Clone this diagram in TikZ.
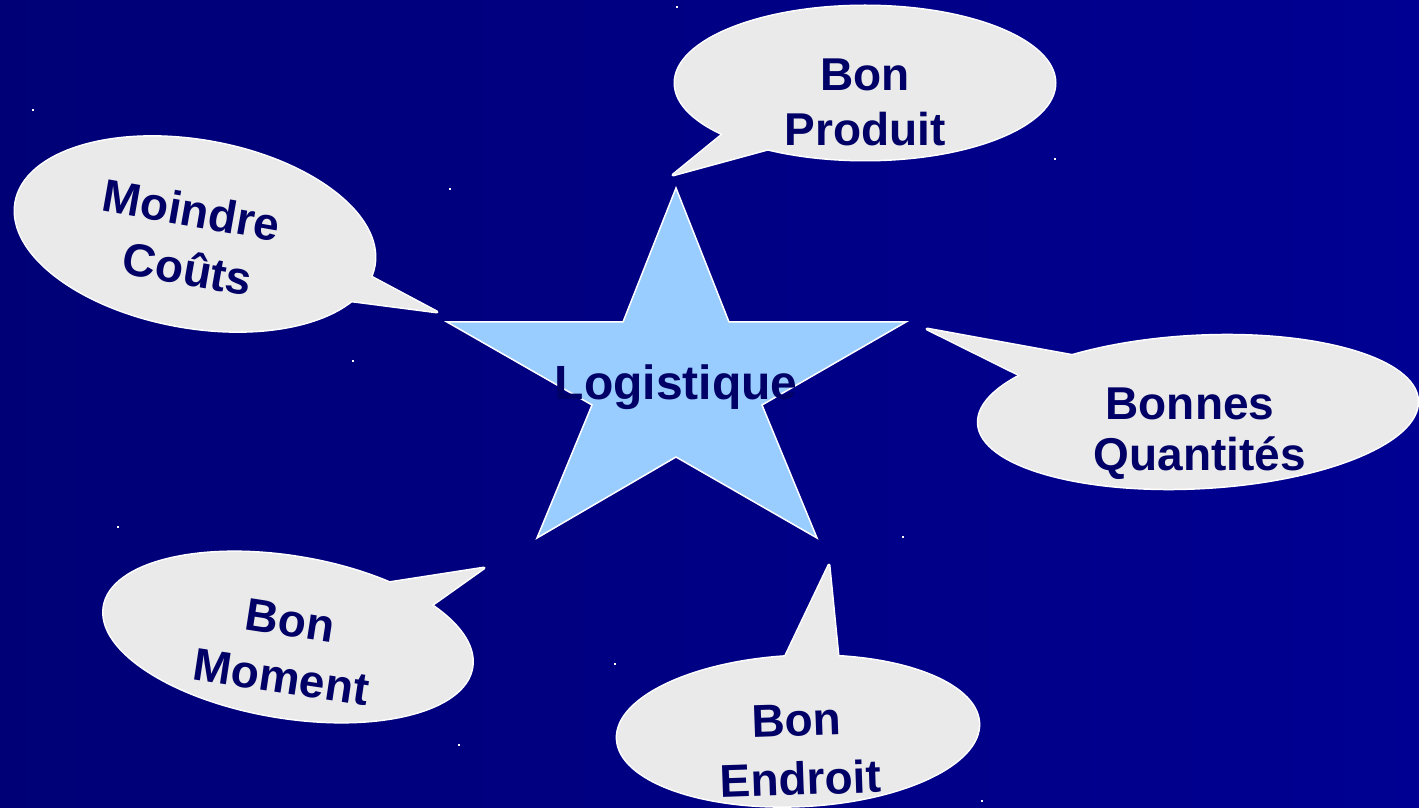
\documentclass[tikz,border=0pt]{standalone}
\usepackage{fontspec}
\setmainfont{Liberation Sans}
\usetikzlibrary{calc}
\definecolor{bgleft}{RGB}{0,0,118}
\definecolor{bgright}{RGB}{0,0,146}
\definecolor{starblue}{RGB}{153,204,255}
\definecolor{cgray}{RGB}{234,234,234}
\definecolor{navytext}{RGB}{0,0,102}
\newcommand\mybubble[7]{%
  \begin{scope}[shift={#1}, rotate=#4]\path[outl] (0,0) ellipse [x radius=#2, y radius=#3];\end{scope}
  \path[outl] ($#5!8pt!#1$) -- #7 -- ($#6!8pt!#1$) -- cycle;
  \begin{scope}[shift={#1}, rotate=#4]\path[cfill] (0,0) ellipse [x radius=#2, y radius=#3];\end{scope}
  \path[cfill] ($#5!8pt!#1$) -- #7 -- ($#6!8pt!#1$) -- cycle;
}
\begin{document}
\begin{tikzpicture}[x=1pt,y=1pt,
  lbl/.style={font=\fontsize{46}{46}\selectfont\bfseries, text=navytext, inner sep=0pt, anchor=base},
  biglbl/.style={font=\fontsize{48}{48}\selectfont\bfseries, text=navytext, inner sep=0pt, anchor=base},
  outl/.style={draw=white, line width=3pt, line join=round},
  cfill/.style={fill=cgray},
  starstyle/.style={draw=white, line width=1.5pt, fill=starblue, line join=miter}
]
\useasboundingbox (0,0) rectangle (1419,807);
\shade[left color=bgleft, right color=bgright] (0,0) rectangle (1419,807);
% small stars
\foreach \x/\y in {677/800, 33/697, 450/618, 1055/648, 353/446, 118/280, 903/270, 615/143, 459/62, 982/6}
  \fill[white] (\x-1.2,\y-1.2) rectangle ++(2.4,2.4);

% star
\coordinate (sT) at (676,619);
\coordinate (sL) at (447,485);
\coordinate (sR) at (906,485);
\coordinate (sBL) at (537,269);
\coordinate (sBR) at (817,269);
\path[starstyle] (sT) -- (729,485) -- (sR) -- (762,402) -- (sBR) -- (676,350) -- (sBL) -- (592,402) -- (sL) -- (623,485) -- cycle;
\node[biglbl] (logi) at (676,407) {Logistique};

% Bon Produit
\coordinate (pc) at (865,724);
\coordinate (pb1) at (720,674);
\coordinate (pb2) at (772,656);
\coordinate (pt) at (673,632);
\mybubble{(pc)}{190}{77}{0}{(pb1)}{(pb2)}{(pt)}
\node[lbl] (p1) at (865,716) {Bon};
\node[lbl] (p2) at (865,661) {Produit};

% Moindre Couts
\coordinate (mc) at (195,573);
\coordinate (mb1) at (372,532);
\coordinate (mb2) at (350,504);
\coordinate (mt) at (437,495);
\mybubble{(mc)}{182}{93.5}{-10}{(mb1)}{(mb2)}{(mt)}
\node[lbl, rotate=-10] (m1) at (189,581) {Moindre};
\node[lbl, rotate=-10] (m2) at (185,522) {Coûts};

% Bonnes Quantites
\coordinate (qc) at (1198,395);
\coordinate (qb1) at (1070,454);
\coordinate (qb2) at (1015,432);
\coordinate (qt) at (927,478);
\mybubble{(qc)}{220}{76}{3}{(qb1)}{(qb2)}{(qt)}
\node[lbl] (q1) at (1190,387) {Bonnes};
\node[lbl] (q2) at (1200,337) {Quantités};

% Bon Endroit
\coordinate (ec) at (798,76);
\coordinate (eb1) at (780,151);
\coordinate (eb2) at (843,150);
\coordinate (et) at (829,242);
\mybubble{(ec)}{181}{75}{2.5}{(eb1)}{(eb2)}{(et)}
\node[lbl, rotate=2] (e1) at (797,71) {Bon};
\node[lbl, rotate=2] (e2) at (801,12) {Endroit};

% Bon Moment
\coordinate (oc) at (288,170);
\coordinate (ob1) at (388,227);
\coordinate (ob2) at (436,201);
\coordinate (ot) at (484,239);
\mybubble{(oc)}{186.5}{80.5}{-9.4}{(ob1)}{(ob2)}{(ot)}
\node[lbl, rotate=-8.8] (o1) at (288,171) {Bon};
\node[lbl, rotate=-8.6] (o2) at (279,114) {Moment};
\end{tikzpicture}
\end{document}
